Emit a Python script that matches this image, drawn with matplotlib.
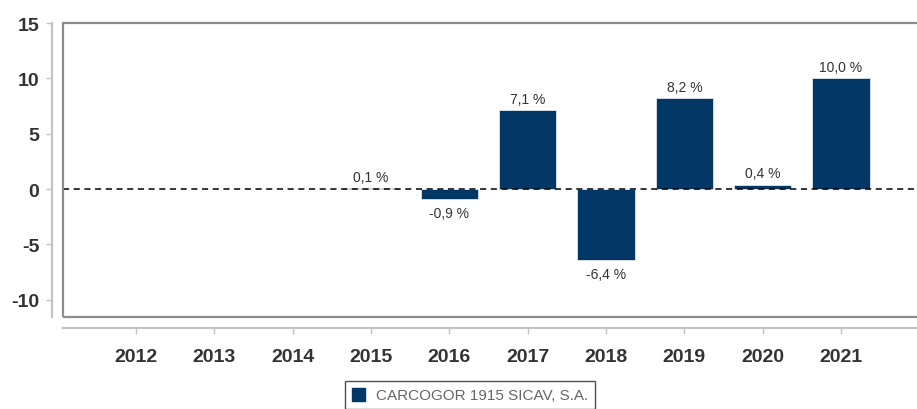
import numpy as np
import matplotlib
matplotlib.use("Agg")
import matplotlib.pyplot as plt
from matplotlib.patches import Rectangle, Patch

plt.rcParams["font.family"] = ["Liberation Sans", "DejaVu Sans"]

# Annual returns (%) per year; NaN where the fund has no data
years = ["2012", "2013", "2014", "2015", "2016", "2017", "2018", "2019", "2020", "2021"]
returns = [np.nan, np.nan, np.nan, 0.1, -0.9, 7.1, -6.4, 8.2, 0.4, 10.0]
y_ticks = [-10, -5, 0, 5, 10, 15]
series_name = "CARCOGOR 1915 SICAV, S.A."

BAR = "#033766"
FRAME = "#8c8c8c"
AXIS = "#c4c4c4"
TEXT = "#333333"

W, H = 917, 410
fig = plt.figure(figsize=(W / 100, H / 100), dpi=100)
ax = fig.add_axes([63 / W, 92 / H, (935 - 63) / W, (318 - 24) / H])

# detached axis lines (set before styling tick labels, this resets ticks)
for side in ["top", "right"]:
    ax.spines[side].set_visible(False)
ax.spines["left"].set_position(("outward", 8))
ax.spines["bottom"].set_position(("outward", 8))
for side in ["left", "bottom"]:
    ax.spines[side].set_color(AXIS)
    ax.spines[side].set_linewidth(1.6)

x = np.arange(len(years))
ax.bar(x, returns, width=0.73, color=BAR, edgecolor="#dfe6ee", linewidth=0.6, zorder=2)
ax.axhline(0, color="black", linestyle=(0, (4, 3)), linewidth=1.1, zorder=3)

for xi, v in zip(x, returns):
    if np.isnan(v):
        continue
    label = f"{v:.1f} %".replace(".", ",")
    if v >= 0:
        ax.annotate(label, (xi, v), xytext=(0, 3), textcoords="offset points",
                    ha="center", va="bottom", fontsize=10, color=TEXT)
    else:
        ax.annotate(label, (xi, v), xytext=(0, -5), textcoords="offset points",
                    ha="center", va="top", fontsize=10, color=TEXT)

ax.set_ylim(-11.56, 15)
ax.set_xlim(-0.934, 10.2)
ax.set_yticks(y_ticks)
ax.set_xticks(x)
ax.tick_params(axis="y", color=AXIS, length=4, width=1, pad=5)
ax.tick_params(axis="x", color=AXIS, length=4, width=1, pad=10)
ax.set_yticklabels([str(t) for t in y_ticks], fontsize=14, fontweight="bold", color=TEXT)
ax.set_xticklabels(years, fontsize=14, fontweight="bold", color=TEXT)

# inner frame of the plot area
ax.add_patch(Rectangle((0, 0), 1, 1, transform=ax.transAxes, fill=False,
                       edgecolor=FRAME, linewidth=1.6, clip_on=False, zorder=4))

leg = fig.legend(handles=[Patch(facecolor=BAR, edgecolor=BAR, label=series_name)],
                 loc="upper center", bbox_to_anchor=(470 / W, 28 / H),
                 borderaxespad=0, frameon=True, fancybox=False, fontsize=11,
                 handlelength=0.9, handleheight=0.9, borderpad=0.45, handletextpad=0.7)
leg.get_frame().set_edgecolor("#222222")
leg.get_frame().set_linewidth(1.0)
for t in leg.get_texts():
    t.set_color("#666666")

fig.savefig("out.png", dpi=100)
